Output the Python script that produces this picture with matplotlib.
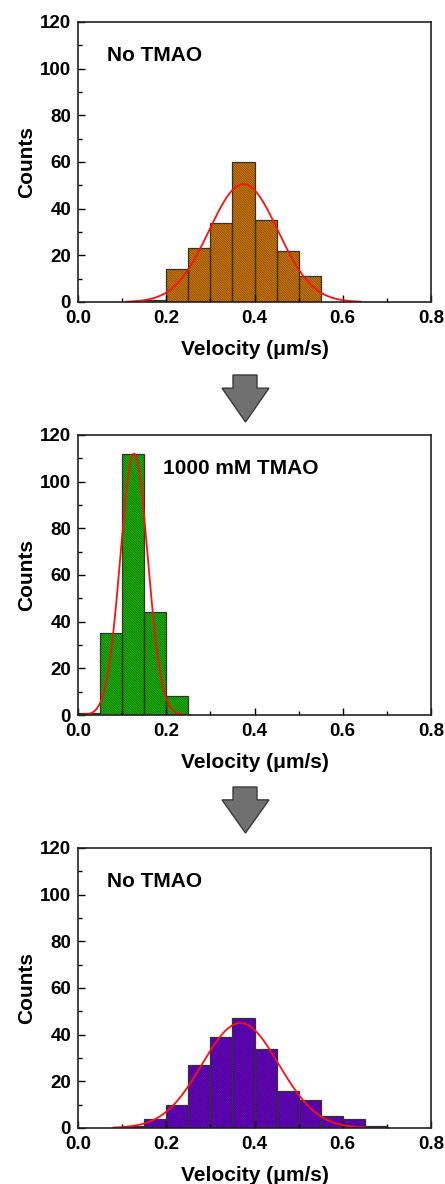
import numpy as np
import matplotlib
matplotlib.use("Agg")
import matplotlib.pyplot as plt
from matplotlib.patches import Polygon

plt.rcParams['font.family'] = ['Liberation Sans', 'DejaVu Sans']
plt.rcParams['font.weight'] = 'bold'
plt.rcParams['hatch.linewidth'] = 0.5

# Histogram data (bin left edges, width 0.05 µm/s)
bin_width = 0.05
edges_top = [0.15, 0.20, 0.25, 0.30, 0.35, 0.40, 0.45, 0.50]
counts_top = [1, 14, 23, 34, 60, 35, 22, 11]

edges_mid = [0.00, 0.05, 0.10, 0.15, 0.20]
counts_mid = [1, 35, 112, 44, 8]

edges_bot = [0.10, 0.15, 0.20, 0.25, 0.30, 0.35, 0.40, 0.45, 0.50, 0.55, 0.60, 0.65]
counts_bot = [1, 4, 10, 27, 39, 47, 34, 16, 12, 5, 4, 1]

# Gaussian fits: (amplitude, centre, sigma, x range)
fit_top = (50.5, 0.375, 0.078, (0.11, 0.64))
fit_mid = (112.0, 0.127, 0.031, (0.0, 0.255))
fit_bot = (45.0, 0.368, 0.087, (0.08, 0.65))

labels = ["No TMAO", "1000 mM TMAO", "No TMAO"]
colors = ["#EE8A00", "#1FD000", "#7A00E6"]
hatch_colors = ["#5a3200", "#0b4a00", "#2a0055"]

fig = plt.figure(figsize=(4.45, 11.84), dpi=100)

W, H = 445, 1184
ax_px = [(22, 302), (435, 715), (848, 1128)]
left_px, right_px = 78, 431

panels = [(edges_top, counts_top, fit_top),
          (edges_mid, counts_mid, fit_mid),
          (edges_bot, counts_bot, fit_bot)]

for i, ((edges, counts, fit), (top, bot)) in enumerate(zip(panels, ax_px)):
    ax = fig.add_axes([left_px / W, 1 - bot / H, (right_px - left_px) / W, (bot - top) / H])
    # hatched fill
    ax.bar(edges, counts, width=bin_width, align='edge', color=colors[i],
           edgecolor=hatch_colors[i], linewidth=0, hatch='\\' * 14)
    # bar outlines
    ax.bar(edges, counts, width=bin_width, align='edge', fill=False,
           edgecolor='#333333', linewidth=0.9)
    amp, mu, sig, (x0, x1) = fit
    xs = np.linspace(x0, x1, 300)
    ax.plot(xs, amp * np.exp(-(xs - mu) ** 2 / (2 * sig ** 2)), color='#FF1010', lw=1.3)
    ax.set_xlim(0, 0.8)
    ax.set_ylim(0, 120)
    ax.set_xticks([0.0, 0.2, 0.4, 0.6, 0.8])
    ax.set_xticks([0.1, 0.3, 0.5, 0.7], minor=True)
    ax.set_yticks([0, 20, 40, 60, 80, 100, 120])
    ax.set_yticks([10, 30, 50, 70, 90, 110], minor=True)
    ax.set_xticklabels(["0.0", "0.2", "0.4", "0.6", "0.8"])
    ax.tick_params(which='both', direction='in', top=False, right=False,
                   labelsize=13.5, width=1.0)
    ax.tick_params(axis='x', which='major', pad=6)
    ax.tick_params(axis='y', which='major', pad=5)
    ax.tick_params(which='major', length=5)
    ax.tick_params(which='minor', length=3)
    for lbl in ax.get_xticklabels() + ax.get_yticklabels():
        lbl.set_fontweight('bold')
    for s in ax.spines.values():
        s.set_linewidth(1.2)
        s.set_color('#222222')
    ax.set_ylabel("Counts", fontsize=15, fontweight='bold', labelpad=3)
    ax.set_xlabel("Velocity (μm/s)", fontsize=15, fontweight='bold', labelpad=9)
    tx = 0.066 if i != 1 else 0.193
    ax.text(tx, 105.5, labels[i], fontsize=15, fontweight='bold', va='center', ha='left')

# Down arrows between panels
def down_arrow(y_top_px, y_bot_px):
    xl, xr = 222, 269
    sl, sr = 233, 257
    xc = (xl + xr) / 2
    yh = y_top_px + (y_bot_px - y_top_px) * 0.28
    pts_px = [(sl, y_top_px), (sr, y_top_px), (sr, yh), (xr, yh), (xc, y_bot_px),
              (xl, yh), (sl, yh)]
    pts = [(x / W, 1 - y / H) for x, y in pts_px]
    fig.patches.append(Polygon(pts, closed=True, transform=fig.transFigure,
                               facecolor='#707070', edgecolor='#3a3a3a', lw=1.0))

down_arrow(375, 422)
down_arrow(787, 833)

fig.savefig("out.png", dpi=100)
